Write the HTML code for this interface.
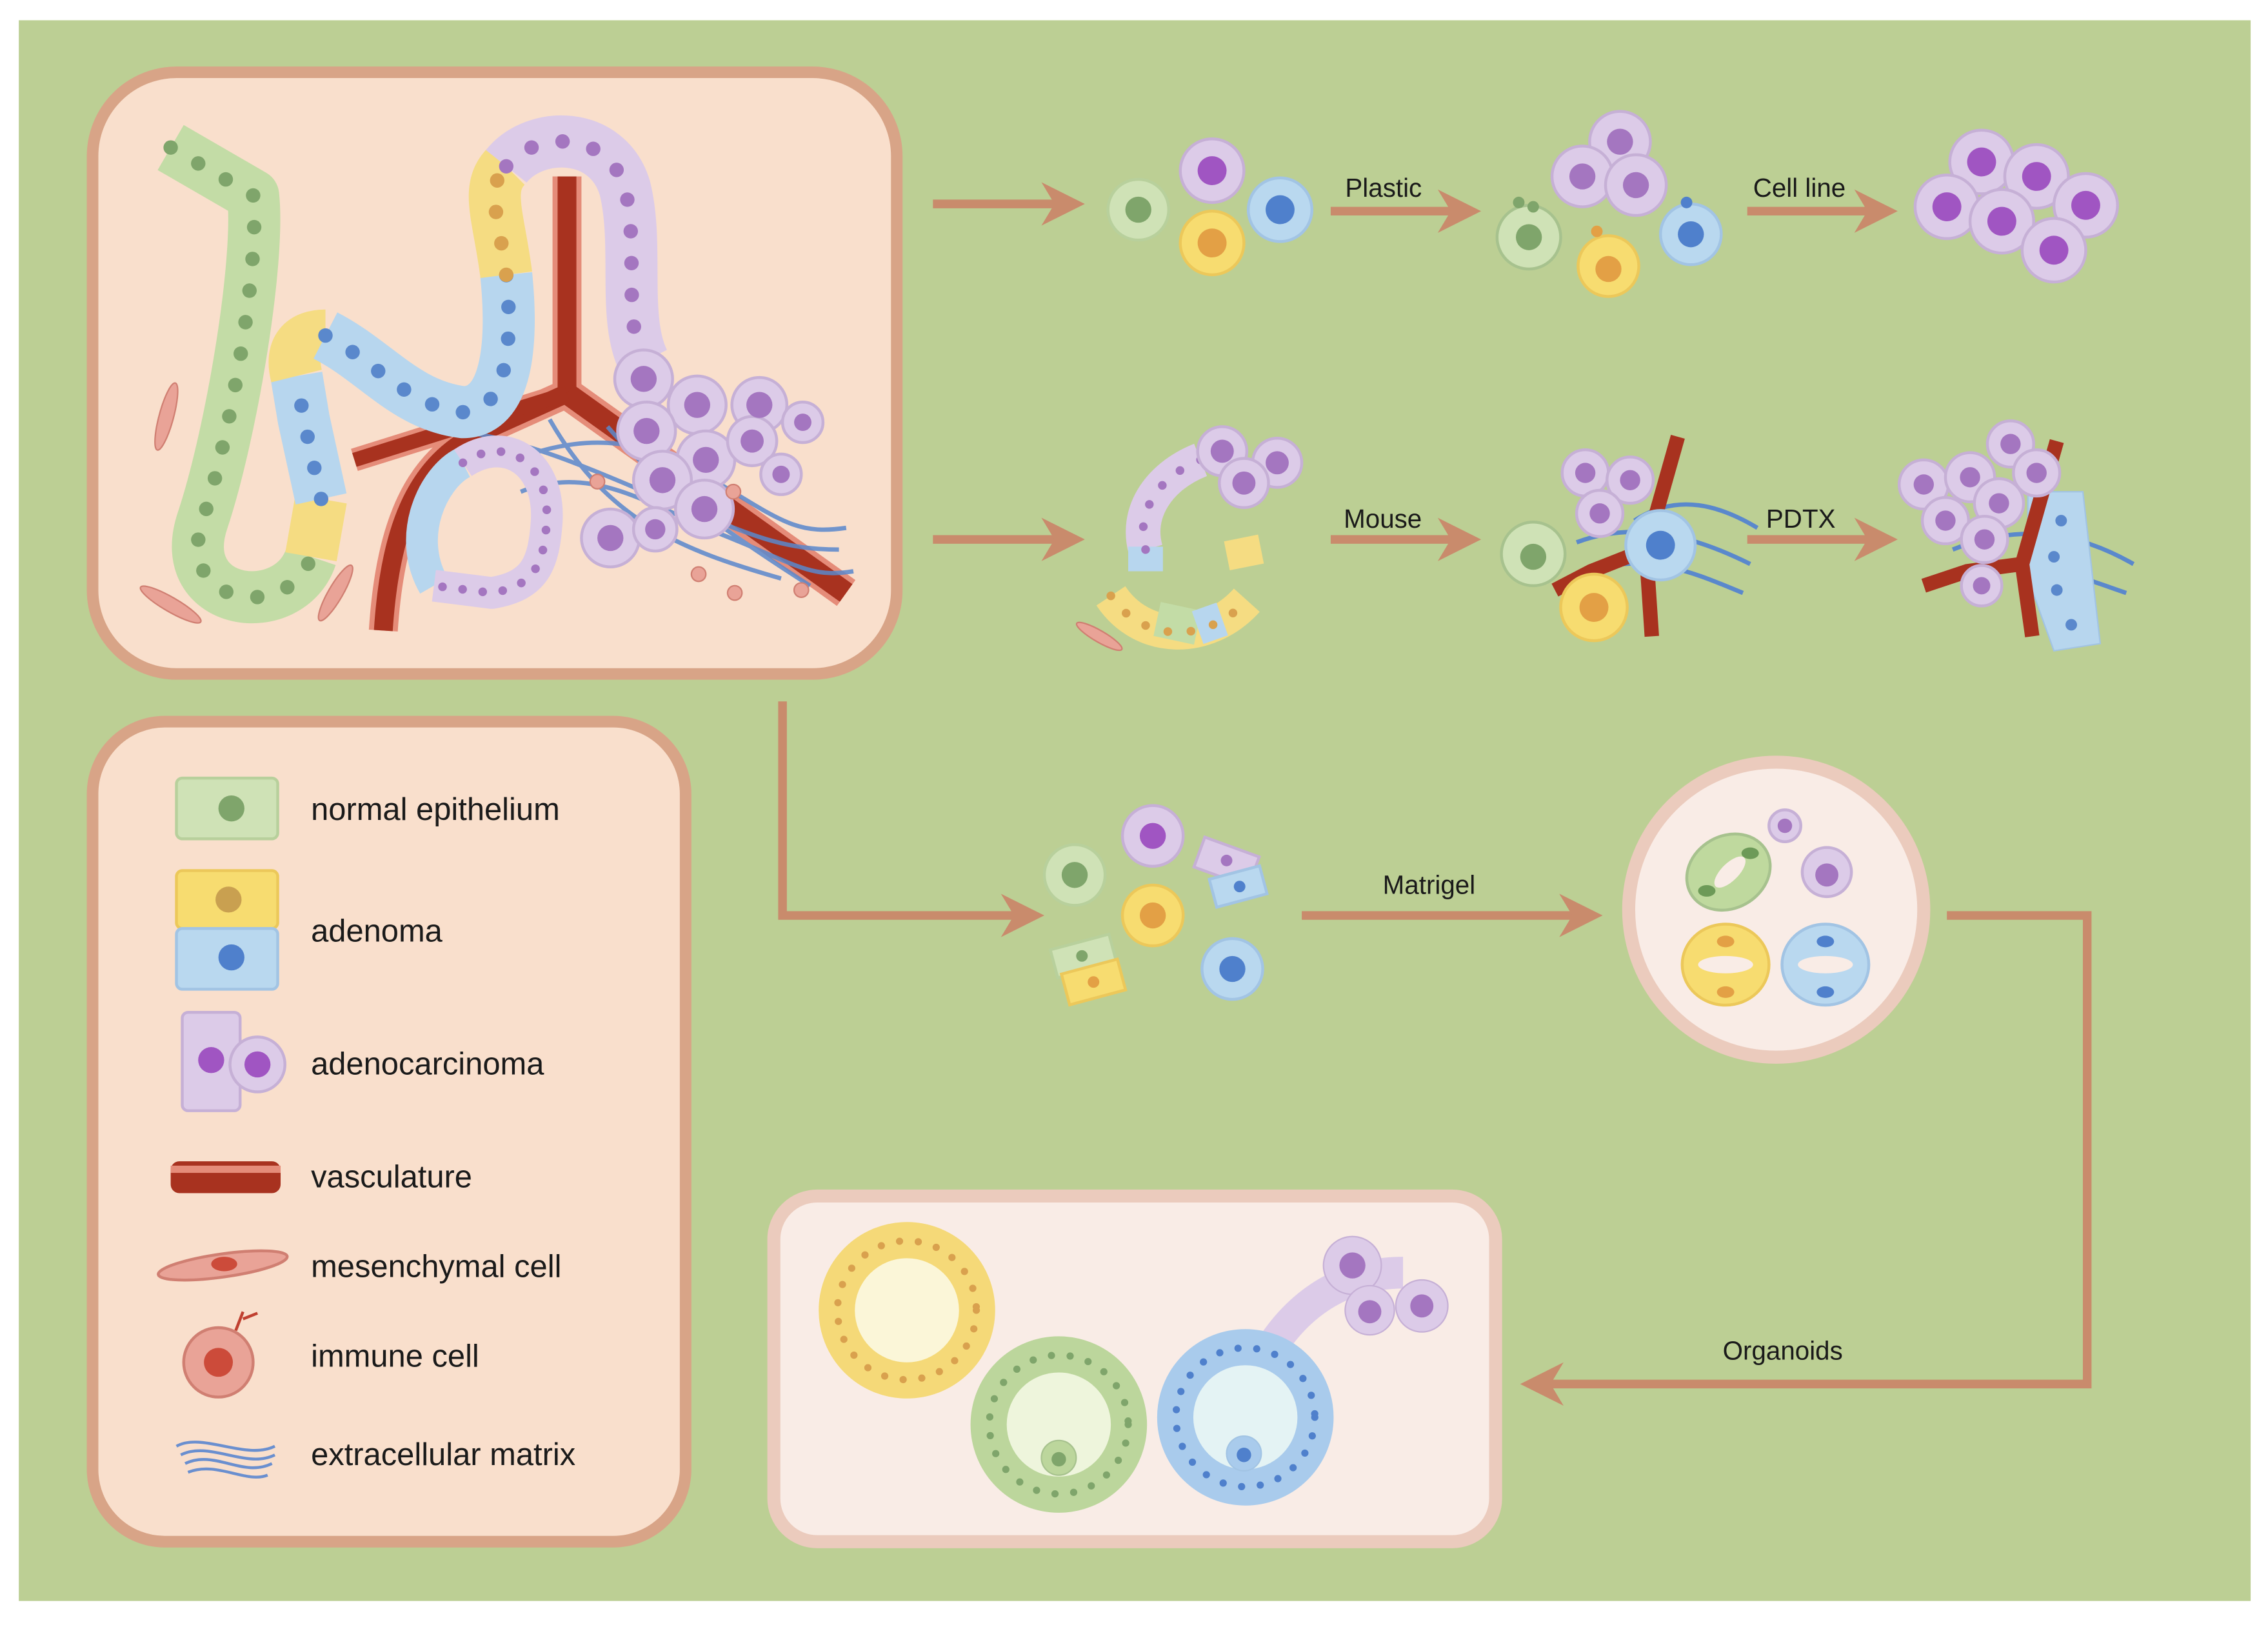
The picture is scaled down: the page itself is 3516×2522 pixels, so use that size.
<!DOCTYPE html>
<html><head><meta charset="utf-8"><style>
html,body{margin:0;padding:0;background:#fff;}
svg{display:block;}
text{font-family:"Liberation Sans",Arial,sans-serif;fill:#1a1a1a;}
</style></head><body>
<svg width="3516" height="2522" viewBox="0 0 1568 1125" preserveAspectRatio="none" xmlns="http://www.w3.org/2000/svg">
<defs>
<marker id="ah" viewBox="0 0 10 10" refX="6" refY="5" markerWidth="5" markerHeight="5" orient="auto" markerUnits="strokeWidth">
<path d="M0,0 L10,5 L0,10 L3,5 z" fill="#c98b6c"/></marker>
</defs>
<rect x="0" y="0" width="1568" height="1125" fill="#fff"/>
<rect x="13" y="14" width="1543" height="1093" fill="#bccf94"/>

<rect x="64" y="50" width="556" height="416" rx="58" fill="#f9dfcc" stroke="#d8a487" stroke-width="8"/>
<rect x="64" y="499" width="410" height="567" rx="50" fill="#f9dfcc" stroke="#d8a487" stroke-width="8"/>
<rect x="535" y="827" width="499" height="239" rx="30" fill="#f9ece6" stroke="#ebcbbd" stroke-width="9"/>
<circle cx="1228" cy="629" r="102" fill="#f9ece6" stroke="#ebcbbd" stroke-width="9"/>

<g stroke="#c98b6c" stroke-width="6" fill="none" marker-end="url(#ah)">
<line x1="645" y1="141" x2="738" y2="141"/>
<line x1="920" y1="146" x2="1012" y2="146"/>
<line x1="1208" y1="146" x2="1300" y2="146"/>
<line x1="645" y1="373" x2="738" y2="373"/>
<line x1="920" y1="373" x2="1012" y2="373"/>
<line x1="1208" y1="373" x2="1300" y2="373"/>
<polyline points="541,485 541,633 710,633"/>
<line x1="900" y1="633" x2="1096" y2="633"/>
<polyline points="1346,633 1443,633 1443,957 1063,957"/>
</g>
<g font-size="18">
<text x="930" y="136">Plastic</text>
<text x="1212" y="136">Cell line</text>
<text x="929" y="365">Mouse</text>
<text x="1221" y="365">PDTX</text>
<text x="956" y="618">Matrigel</text>
<text x="1191" y="940">Organoids</text>
</g>

<g fill="none" stroke-linecap="butt">
<path d="M265,436 C270,360 290,320 330,300 L392,272 L392,122" stroke="#e58c79" stroke-width="20"/>
<path d="M392,272 L585,410" stroke="#e58c79" stroke-width="22"/>
<path d="M392,272 L245,318" stroke="#e58c79" stroke-width="16"/>
<path d="M265,436 C270,360 290,320 330,300 L392,272 L392,122" stroke="#a8321f" stroke-width="13"/>
<path d="M392,272 L585,410" stroke="#a8321f" stroke-width="15"/>
<path d="M392,272 L245,318" stroke="#a8321f" stroke-width="10"/>
</g>
<g fill="none" stroke="#5a88cc" stroke-width="3" opacity="0.85">
<path d="M330,300 C380,310 420,330 470,350 S540,380 580,380"/>
<path d="M350,320 C400,300 440,300 490,330 S550,370 585,365"/>
<path d="M360,340 C410,320 450,350 500,370 S560,400 590,395"/>
<path d="M380,290 C420,360 470,380 540,400"/>
<path d="M420,295 C450,330 490,360 560,405"/>
</g>
<g fill="none" stroke-linejoin="round">
<path d="M118,102 L175,135 C180,180 160,300 140,360 C120,420 200,430 215,385" stroke="#c3dca6" stroke-width="36"/>
<path d="M215,385 L222,345" stroke="#f5dc82" stroke-width="36"/>
<path d="M222,345 L210,290 L205,260" stroke="#b7d6ee" stroke-width="36"/>
<path d="M205,260 C200,240 210,232 225,232" stroke="#f5dc82" stroke-width="36"/>
<path d="M225,232 C260,250 280,280 320,285 C350,285 355,240 350,190" stroke="#b7d6ee" stroke-width="36"/>
<path d="M350,190 C345,150 335,130 350,115" stroke="#f5dc82" stroke-width="36"/>
<path d="M350,115 C370,90 420,90 432,130 C442,170 430,220 445,250" stroke="#dccbe8" stroke-width="36"/>
<path d="M300,405 C280,370 300,330 320,320" stroke="#b7d6ee" stroke-width="22"/>
<path d="M320,320 C350,300 380,320 378,360 C376,390 370,405 340,410 L300,405" stroke="#dccbe8" stroke-width="22"/>
</g>
<g fill="none" stroke-linecap="round" stroke-width="10">
<path d="M118,102 L175,135 C180,180 160,300 140,360 C120,420 200,430 215,385" stroke="#7fa56b" stroke-dasharray="0 22"/>
<path d="M222,345 L210,290 L205,260" stroke="#5a88cc" stroke-dasharray="0 22"/>
<path d="M225,232 C260,250 280,280 320,285 C350,285 355,240 350,190" stroke="#5a88cc" stroke-dasharray="0 22"/>
<path d="M350,190 C345,150 335,130 350,115" stroke="#d9a14e" stroke-dasharray="0 22"/>
<path d="M350,115 C370,90 420,90 432,130 C442,170 430,220 445,250" stroke="#a476c0" stroke-dasharray="0 22"/>
<path d="M320,320 C350,300 380,320 378,360 C376,390 370,405 340,410 L300,405" stroke="#a476c0" stroke-width="6" stroke-dasharray="0 14"/>
</g>
<g stroke="#c6b0d6" stroke-width="2" fill="#dccbe8">
<circle cx="445" cy="262" r="20"/><circle cx="482" cy="280" r="20"/><circle cx="525" cy="280" r="19"/>
<circle cx="555" cy="292" r="14"/><circle cx="447" cy="298" r="20"/><circle cx="488" cy="318" r="20"/>
<circle cx="520" cy="305" r="17"/><circle cx="458" cy="332" r="20"/><circle cx="487" cy="352" r="20"/>
<circle cx="540" cy="328" r="14"/><circle cx="422" cy="372" r="20"/><circle cx="453" cy="366" r="15"/>
</g>
<g fill="#a476c0">
<circle cx="445" cy="262" r="9"/><circle cx="482" cy="280" r="9"/><circle cx="525" cy="280" r="9"/>
<circle cx="555" cy="292" r="6"/><circle cx="447" cy="298" r="9"/><circle cx="488" cy="318" r="9"/>
<circle cx="520" cy="305" r="8"/><circle cx="458" cy="332" r="9"/><circle cx="487" cy="352" r="9"/>
<circle cx="540" cy="328" r="6"/><circle cx="422" cy="372" r="9"/><circle cx="453" cy="366" r="7"/>
</g>
<g fill="#e9a397" stroke="#d07f72">
<ellipse cx="115" cy="288" rx="5" ry="24" transform="rotate(15 115 288)"/>
<ellipse cx="118" cy="418" rx="5" ry="24" transform="rotate(-60 118 418)"/>
<ellipse cx="232" cy="410" rx="5" ry="22" transform="rotate(30 232 410)"/>
<circle cx="413" cy="333" r="5"/><circle cx="483" cy="397" r="5"/><circle cx="508" cy="410" r="5"/><circle cx="554" cy="408" r="5"/><circle cx="507" cy="340" r="5"/>
</g>

<g stroke-width="2">
<circle cx="787" cy="145" r="21" fill="#cfe2b6" stroke="#b8d09c"/><circle cx="787" cy="145" r="9" fill="#7fa56b"/>
<circle cx="838" cy="118" r="22" fill="#dccbe8" stroke="#c6b0d6"/><circle cx="838" cy="118" r="10" fill="#a055c2"/>
<circle cx="838" cy="168" r="22" fill="#f7dc70" stroke="#ecc85a"/><circle cx="838" cy="168" r="10" fill="#e3a045"/>
<circle cx="885" cy="145" r="22" fill="#b9d8ef" stroke="#a2c4e4"/><circle cx="885" cy="145" r="10" fill="#4f80cc"/>

<circle cx="1057" cy="164" r="22" fill="#cfe2b6" stroke="#a7c28e"/><circle cx="1057" cy="164" r="9" fill="#7fa56b"/>
<circle cx="1050" cy="140" r="4" fill="#7fa56b"/><circle cx="1060" cy="143" r="4" fill="#7fa56b"/>
<circle cx="1120" cy="98" r="21" fill="#dccbe8" stroke="#c6b0d6"/><circle cx="1120" cy="98" r="9" fill="#a476c0"/>
<circle cx="1094" cy="122" r="21" fill="#dccbe8" stroke="#c6b0d6"/><circle cx="1094" cy="122" r="9" fill="#a476c0"/>
<circle cx="1131" cy="128" r="21" fill="#dccbe8" stroke="#c6b0d6"/><circle cx="1131" cy="128" r="9" fill="#a476c0"/>
<circle cx="1112" cy="184" r="21" fill="#f7dc70" stroke="#ecc85a"/><circle cx="1112" cy="186" r="9" fill="#e3a045"/>
<circle cx="1169" cy="162" r="21" fill="#b9d8ef" stroke="#a2c4e4"/><circle cx="1169" cy="162" r="9" fill="#4f80cc"/>
<circle cx="1166" cy="140" r="4" fill="#4f80cc"/><circle cx="1104" cy="160" r="4" fill="#e3a045"/>

<circle cx="1370" cy="112" r="22" fill="#dccbe8" stroke="#c6b0d6"/><circle cx="1370" cy="112" r="10" fill="#a055c2"/>
<circle cx="1408" cy="122" r="22" fill="#dccbe8" stroke="#c6b0d6"/><circle cx="1408" cy="122" r="10" fill="#a055c2"/>
<circle cx="1346" cy="143" r="22" fill="#dccbe8" stroke="#c6b0d6"/><circle cx="1346" cy="143" r="10" fill="#a055c2"/>
<circle cx="1384" cy="153" r="22" fill="#dccbe8" stroke="#c6b0d6"/><circle cx="1384" cy="153" r="10" fill="#a055c2"/>
<circle cx="1442" cy="142" r="22" fill="#dccbe8" stroke="#c6b0d6"/><circle cx="1442" cy="142" r="10" fill="#a055c2"/>
<circle cx="1420" cy="173" r="22" fill="#dccbe8" stroke="#c6b0d6"/><circle cx="1420" cy="173" r="10" fill="#a055c2"/>
</g>

<!-- row 2 -->
<g fill="none" stroke-width="24">
<path d="M792,380 C785,355 800,330 830,318" stroke="#dccbe8"/>
<path d="M792,395 L792,378" stroke="#b7d6ee"/>
<path d="M768,412 C790,445 835,445 862,415" stroke="#f5dc82"/>
<path d="M800,428 L828,434" stroke="#c3dca6"/>
<path d="M828,434 L845,428" stroke="#b7d6ee"/>
<path d="M858,372 L862,392" stroke="#f5dc82"/>
</g>
<g fill="none" stroke-linecap="round" stroke-width="6" stroke-dasharray="0 16">
<path d="M792,380 C785,355 800,330 830,318" stroke="#a476c0"/>
<path d="M768,412 C790,445 835,445 862,415" stroke="#d9a14e"/>
</g>
<ellipse cx="760" cy="440" rx="4" ry="18" fill="#e9a397" stroke="#d07f72" transform="rotate(-60 760 440)"/>
<g stroke-width="2">
<circle cx="845" cy="312" r="17" fill="#dccbe8" stroke="#c6b0d6"/><circle cx="845" cy="312" r="8" fill="#a476c0"/>
<circle cx="883" cy="320" r="17" fill="#dccbe8" stroke="#c6b0d6"/><circle cx="883" cy="320" r="8" fill="#a476c0"/>
<circle cx="860" cy="334" r="17" fill="#dccbe8" stroke="#c6b0d6"/><circle cx="860" cy="334" r="8" fill="#a476c0"/>
</g>
<g fill="none" stroke="#5a88cc" stroke-width="3">
<path d="M1090,375 C1130,360 1170,370 1210,390"/><path d="M1100,395 C1140,380 1180,400 1205,410"/>
<path d="M1130,360 C1160,340 1190,350 1215,365"/>
<path d="M1350,380 C1400,360 1440,370 1475,390"/><path d="M1360,400 C1410,385 1440,400 1470,410"/>
</g>
<path d="M1160,302 L1138,380 L1142,440 M1138,380 L1100,395 L1075,408" fill="none" stroke="#a8321f" stroke-width="10"/>
<g stroke-width="2">
<circle cx="1060" cy="383" r="22" fill="#cfe2b6" stroke="#a7c28e"/><circle cx="1060" cy="385" r="9" fill="#7fa56b"/>
<circle cx="1096" cy="327" r="16" fill="#dccbe8" stroke="#c6b0d6"/><circle cx="1096" cy="327" r="7" fill="#a476c0"/>
<circle cx="1127" cy="332" r="16" fill="#dccbe8" stroke="#c6b0d6"/><circle cx="1127" cy="332" r="7" fill="#a476c0"/>
<circle cx="1106" cy="355" r="16" fill="#dccbe8" stroke="#c6b0d6"/><circle cx="1106" cy="355" r="7" fill="#a476c0"/>
<circle cx="1148" cy="377" r="24" fill="#b9d8ef" stroke="#a2c4e4"/><circle cx="1148" cy="377" r="10" fill="#4f80cc"/>
<circle cx="1102" cy="420" r="23" fill="#f7dc70" stroke="#ecc85a"/><circle cx="1102" cy="420" r="10" fill="#e3a045"/>
</g>
<path d="M1402,340 L1440,340 L1452,445 L1420,450 L1402,400 z" fill="#b7d6ee" stroke="#a2c4e4"/>
<g fill="#5a88cc"><circle cx="1425" cy="360" r="4"/><circle cx="1420" cy="385" r="4"/><circle cx="1422" cy="408" r="4"/><circle cx="1432" cy="432" r="4"/></g>
<path d="M1422,305 L1398,390 L1405,440 M1398,390 L1360,395 L1330,405" fill="none" stroke="#a8321f" stroke-width="10"/>
<g stroke-width="2">
<circle cx="1390" cy="307" r="16" fill="#dccbe8" stroke="#c6b0d6"/><circle cx="1390" cy="307" r="7" fill="#a476c0"/>
<circle cx="1330" cy="335" r="17" fill="#dccbe8" stroke="#c6b0d6"/><circle cx="1330" cy="335" r="7" fill="#a476c0"/>
<circle cx="1362" cy="330" r="17" fill="#dccbe8" stroke="#c6b0d6"/><circle cx="1362" cy="330" r="7" fill="#a476c0"/>
<circle cx="1408" cy="327" r="16" fill="#dccbe8" stroke="#c6b0d6"/><circle cx="1408" cy="327" r="7" fill="#a476c0"/>
<circle cx="1345" cy="360" r="16" fill="#dccbe8" stroke="#c6b0d6"/><circle cx="1345" cy="360" r="7" fill="#a476c0"/>
<circle cx="1382" cy="348" r="17" fill="#dccbe8" stroke="#c6b0d6"/><circle cx="1382" cy="348" r="7" fill="#a476c0"/>
<circle cx="1372" cy="373" r="16" fill="#dccbe8" stroke="#c6b0d6"/><circle cx="1372" cy="373" r="7" fill="#a476c0"/>
<circle cx="1370" cy="405" r="14" fill="#dccbe8" stroke="#c6b0d6"/><circle cx="1370" cy="405" r="6" fill="#a476c0"/>
</g>

<!-- row 3 -->
<g stroke-width="2">
<circle cx="743" cy="605" r="21" fill="#cfe2b6" stroke="#b8d09c"/><circle cx="743" cy="605" r="9" fill="#7fa56b"/>
<circle cx="797" cy="578" r="21" fill="#dccbe8" stroke="#c6b0d6"/><circle cx="797" cy="578" r="9" fill="#a055c2"/>
<circle cx="797" cy="633" r="21" fill="#f7dc70" stroke="#ecc85a"/><circle cx="797" cy="633" r="9" fill="#e3a045"/>
<circle cx="852" cy="670" r="21" fill="#b9d8ef" stroke="#a2c4e4"/><circle cx="852" cy="670" r="9" fill="#4f80cc"/>
<rect x="828" y="585" width="40" height="22" fill="#dccbe8" stroke="#c6b0d6" transform="rotate(20 848 596)"/>
<rect x="838" y="603" width="36" height="20" fill="#b9d8ef" stroke="#a2c4e4" transform="rotate(-15 856 613)"/>
<circle cx="848" cy="595" r="4" fill="#a476c0"/><circle cx="857" cy="613" r="4" fill="#4f80cc"/>
<rect x="728" y="651" width="42" height="20" fill="#cfe2b6" stroke="#b8d09c" transform="rotate(-15 749 661)"/>
<rect x="736" y="668" width="40" height="22" fill="#f7dc70" stroke="#ecc85a" transform="rotate(-15 756 679)"/>
<circle cx="748" cy="661" r="4" fill="#7fa56b"/><circle cx="756" cy="679" r="4" fill="#e3a045"/>
</g>
<g stroke-width="2">
<ellipse cx="1195" cy="603" rx="30" ry="25" fill="#bfd99e" stroke="#a7c28e" transform="rotate(-30 1195 603)"/>
<ellipse cx="1196" cy="603" rx="14" ry="6" fill="#f9ece6" transform="rotate(-45 1196 603)"/>
<ellipse cx="1210" cy="590" rx="6" ry="4" fill="#6d9a58"/><ellipse cx="1180" cy="616" rx="6" ry="4" fill="#6d9a58"/>
<circle cx="1234" cy="571" r="11" fill="#dccbe8" stroke="#c6b0d6"/><circle cx="1234" cy="571" r="5" fill="#a476c0"/>
<circle cx="1263" cy="603" r="17" fill="#dccbe8" stroke="#c6b0d6"/><circle cx="1263" cy="605" r="8" fill="#a476c0"/>
<ellipse cx="1193" cy="667" rx="30" ry="28" fill="#f7dc70" stroke="#ecc85a"/>
<ellipse cx="1193" cy="667" rx="19" ry="6" fill="#f9ece6"/>
<ellipse cx="1193" cy="651" rx="6" ry="4" fill="#e3a045"/><ellipse cx="1193" cy="686" rx="6" ry="4" fill="#e3a045"/>
<ellipse cx="1262" cy="667" rx="30" ry="28" fill="#b9d8ef" stroke="#a2c4e4"/>
<ellipse cx="1262" cy="667" rx="19" ry="6" fill="#f9ece6"/>
<ellipse cx="1262" cy="651" rx="6" ry="4" fill="#4f80cc"/><ellipse cx="1262" cy="686" rx="6" ry="4" fill="#4f80cc"/>
</g>

<g>
<path d="M880,930 C900,900 930,880 970,880" fill="none" stroke="#dccbe8" stroke-width="22"/>
<circle cx="627" cy="906" r="48" fill="none" stroke="#f5d978" stroke-width="26"/>
<circle cx="627" cy="906" r="36" fill="#fbf6d8"/>
<circle cx="732" cy="985" r="48" fill="none" stroke="#bcd69c" stroke-width="26"/>
<circle cx="732" cy="985" r="36" fill="#eef5dc"/>
<circle cx="861" cy="980" r="48" fill="none" stroke="#a9cbec" stroke-width="26"/>
<circle cx="861" cy="980" r="36" fill="#e4f3f4"/>
<circle cx="627" cy="906" r="48" fill="none" stroke="#d9a14e" stroke-width="5" stroke-dasharray="0 13" stroke-linecap="round"/>
<circle cx="732" cy="985" r="48" fill="none" stroke="#7fa56b" stroke-width="5" stroke-dasharray="0 13" stroke-linecap="round"/>
<circle cx="861" cy="980" r="48" fill="none" stroke="#4f80cc" stroke-width="5" stroke-dasharray="0 13" stroke-linecap="round"/>
<circle cx="732" cy="1008" r="12" fill="#bcd69c" stroke="#a7c28e"/><circle cx="732" cy="1009" r="5" fill="#7fa56b"/>
<circle cx="860" cy="1005" r="12" fill="#a9cbec" stroke="#a2c4e4"/><circle cx="860" cy="1006" r="5" fill="#4f80cc"/>
<circle cx="935" cy="875" r="20" fill="#dccbe8" stroke="#c6b0d6"/><circle cx="935" cy="875" r="9" fill="#a476c0"/>
<circle cx="947" cy="906" r="17" fill="#dccbe8" stroke="#c6b0d6"/><circle cx="947" cy="907" r="8" fill="#a476c0"/>
<circle cx="983" cy="903" r="18" fill="#dccbe8" stroke="#c6b0d6"/><circle cx="983" cy="903" r="8" fill="#a476c0"/>
</g>

<g stroke-width="2">
<rect x="122" y="538" width="70" height="42" rx="4" fill="#cfe2b6" stroke="#b8d09c"/><circle cx="160" cy="559" r="9" fill="#7fa56b"/>
<rect x="122" y="602" width="70" height="40" rx="4" fill="#f7dc70" stroke="#ecc85a"/><circle cx="158" cy="622" r="9" fill="#c9a050"/>
<rect x="122" y="642" width="70" height="42" rx="4" fill="#b9d8ef" stroke="#a2c4e4"/><circle cx="160" cy="662" r="9" fill="#4f80cc"/>
<rect x="126" y="700" width="40" height="68" rx="4" fill="#dccbe8" stroke="#c6b0d6"/>
<circle cx="146" cy="733" r="9" fill="#a055c2"/>
<circle cx="178" cy="736" r="19" fill="#dccbe8" stroke="#c6b0d6"/><circle cx="178" cy="736" r="9" fill="#a055c2"/>
<rect x="118" y="803" width="76" height="22" rx="6" fill="#a8321f"/>
<rect x="118" y="806" width="76" height="5" fill="#e58c79"/>
<ellipse cx="154" cy="875" rx="45" ry="8" fill="#e9a397" stroke="#d07f72" transform="rotate(-8 154 875)"/>
<ellipse cx="155" cy="874" rx="9" ry="5" fill="#cc4b3a"/>
<circle cx="151" cy="942" r="24" fill="#e9a397" stroke="#d07f72"/><circle cx="151" cy="942" r="10" fill="#cc4b3a"/>
<path d="M163,920 L168,907 M168,912 L178,908" stroke="#c04030" stroke-width="2"/>
</g>
<g fill="none" stroke="#6a8fcf" stroke-width="2">
<path d="M122,1000 C140,990 170,1010 190,1000"/><path d="M125,1006 C145,996 170,1016 190,1006"/>
<path d="M128,1012 C148,1002 168,1022 188,1012"/><path d="M130,1018 C150,1010 170,1026 185,1020"/>
</g>
<g font-size="21.8">
<text x="215" y="567">normal epithelium</text>
<text x="215" y="651">adenoma</text>
<text x="215" y="743">adenocarcinoma</text>
<text x="215" y="821">vasculature</text>
<text x="215" y="883">mesenchymal cell</text>
<text x="215" y="945">immune cell</text>
<text x="215" y="1013">extracellular matrix</text>
</g>
</svg>
</body></html>
